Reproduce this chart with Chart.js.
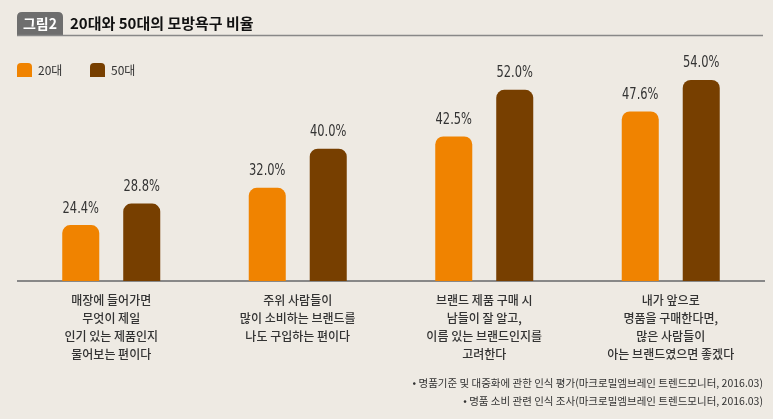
<!DOCTYPE html>
<html>
<head>
<meta charset="utf-8">
<script src="https://cdn.jsdelivr.net/npm/chart.js@4.4.1/dist/chart.umd.min.js"></script>
<style>
  body { margin: 0; background: #EEEAE3; }
  #wrap { width: 773px; height: 419px; }
</style>
</head>
<body>
<div id="wrap"><canvas id="canvas"></canvas></div>
<script>
/* global Chart */

// Data
const categories = [
  ["매장에 들어가면", "무엇이 제일", "인기 있는 제품인지", "물어보는 편이다"],
  ["주위 사람들이", "많이 소비하는 브랜드를", "나도 구입하는 편이다"],
  ["브랜드 제품 구매 시", "남들이 잘 알고,", "이름 있는 브랜드인지를", "고려한다"],
  ["내가 앞으로", "명품을 구매한다면,", "많은 사람들이", "아는 브랜드였으면 좋겠다"]
];
const seriesNames = ["20대", "50대"];
const values20 = [24.4, 32.0, 42.5, 47.6];
const values50 = [28.8, 40.0, 52.0, 54.0];

const chartTitle = "20대와 50대의 모방욕구 비율";
const figureTag = "그림2";
const footnotes = [
  "• 명품기준 및 대중화에 관한 인식 평가(마크로밀엠브레인 트렌드모니터, 2016.03)",
  "• 명품 소비 관련 인식 조사(마크로밀엠브레인 트렌드모니터, 2016.03)"
];

const ORANGE = "#F08300";
const BROWN = "#773F00";
const KR = "'Noto Sans CJK KR', sans-serif";
const NUM = "'Liberation Sans Narrow', 'DejaVu Sans Condensed', sans-serif";

function roundTop(ctx, x, y, w, h, r) {
  ctx.beginPath();
  ctx.moveTo(x, y + h);
  ctx.lineTo(x, y + r);
  ctx.quadraticCurveTo(x, y, x + r, y);
  ctx.lineTo(x + w - r, y);
  ctx.quadraticCurveTo(x + w, y, x + w, y + r);
  ctx.lineTo(x + w, y + h);
  ctx.closePath();
  ctx.fill();
}

// Background, header, legend, value labels and footnotes
const decorations = {
  id: "decorations",
  beforeDraw(chart) {
    const ctx = chart.ctx;
    ctx.save();
    ctx.fillStyle = "#EEEAE3";
    ctx.fillRect(0, 0, chart.width, chart.height);
    ctx.restore();
  },
  afterDatasetsDraw(chart) {
    const ctx = chart.ctx;
    chart.data.datasets.forEach((ds, i) => {
      chart.getDatasetMeta(i).data.forEach((bar, j) => {
        // squeeze the numbers a little, the original font is condensed
        ctx.save();
        ctx.translate(bar.x, bar.y - 9);
        ctx.scale(0.85, 1);
        ctx.font = "15px " + NUM;
        ctx.fillStyle = "#333";
        ctx.textAlign = "center";
        ctx.textBaseline = "bottom";
        ctx.fillText(ds.data[j].toFixed(1) + "%", 0, 0);
        ctx.restore();
      });
    });
  },
  afterDraw(chart) {
    const ctx = chart.ctx;
    ctx.save();

    // title tag and title
    ctx.fillStyle = "#6E6E6E";
    roundTop(ctx, 17, 12, 46, 23, 5);
    ctx.fillStyle = "#fff";
    ctx.font = "bold 14px " + KR;
    ctx.textAlign = "center";
    ctx.textBaseline = "middle";
    ctx.fillText(figureTag, 40, 24);
    ctx.fillStyle = "#111";
    ctx.font = "bold 15px " + KR;
    ctx.textAlign = "left";
    ctx.fillText(chartTitle, 70, 23);
    ctx.strokeStyle = "#888";
    ctx.lineWidth = 1.5;
    ctx.beginPath();
    ctx.moveTo(17, 35.5);
    ctx.lineTo(763, 35.5);
    ctx.stroke();

    // legend
    const legendX = [17, 90];
    chart.data.datasets.forEach((ds, i) => {
      ctx.fillStyle = ds.backgroundColor;
      roundTop(ctx, legendX[i], 63, 15, 14, 4);
      ctx.fillStyle = "#333";
      ctx.font = "12px " + KR;
      ctx.textBaseline = "middle";
      ctx.fillText(ds.label, legendX[i] + 21, 70);
    });

    // footnotes
    ctx.fillStyle = "#333";
    ctx.font = "10.5px " + KR;
    ctx.textAlign = "right";
    ctx.textBaseline = "middle";
    ctx.fillText(footnotes[0], 763, 383);
    ctx.fillText(footnotes[1], 763, 401);
    ctx.restore();
  }
};

function buildConfig() {
  return {
    type: "bar",
    data: {
      labels: categories,
      datasets: [
        {
          label: seriesNames[0],
          data: values20,
          backgroundColor: ORANGE,
          borderRadius: { topLeft: 8, topRight: 8 },
          borderSkipped: "start"
        },
        {
          label: seriesNames[1],
          data: values50,
          backgroundColor: BROWN,
          borderRadius: { topLeft: 8, topRight: 8 },
          borderSkipped: "start"
        }
      ]
    },
    options: {
      responsive: true,
      maintainAspectRatio: false,
      animation: false,
      layout: { padding: { top: 80, left: 18, right: 9, bottom: 46 } },
      datasets: { bar: { categoryPercentage: 0.654, barPercentage: 0.607 } },
      plugins: {
        legend: { display: false },
        title: { display: false },
        tooltip: { enabled: false }
      },
      scales: {
        x: {
          grid: { display: false, drawTicks: false },
          border: { display: true, color: "#888", width: 2 },
          ticks: {
            color: "#333",
            padding: 10,
            font: { family: KR, size: 12, weight: "500", lineHeight: 1.5 },
            maxRotation: 0,
            autoSkip: false
          }
        },
        y: {
          display: false,
          min: 13,
          max: 54
        }
      }
    },
    plugins: [decorations]
  };
}

function publishChart(config) {
  const ctx = document.getElementById("canvas").getContext("2d");
  window.myBar = new Chart(ctx, config);
}

publishChart(buildConfig());
</script>
</body>
</html>
